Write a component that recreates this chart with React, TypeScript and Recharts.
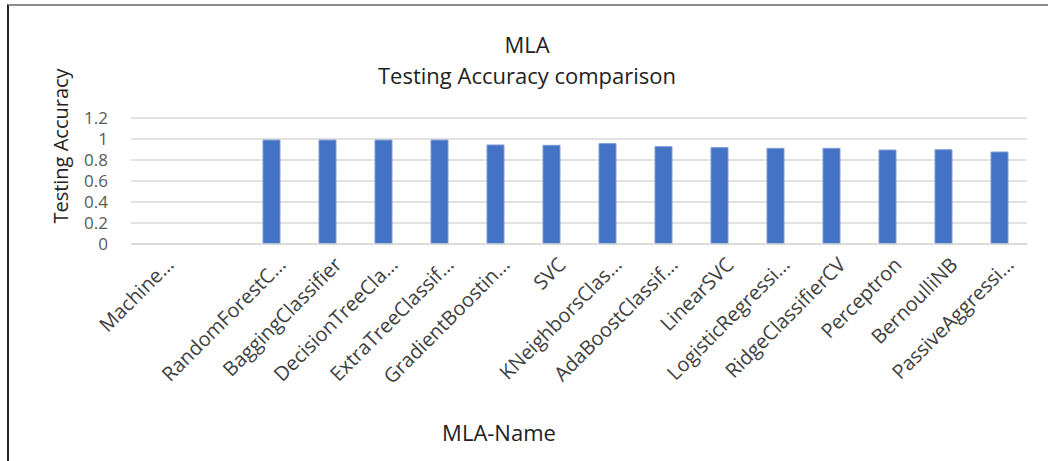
import React from 'react';
import { BarChart, Bar, XAxis, YAxis, CartesianGrid } from 'recharts';

const categories = [
  'Machine…', '', 'RandomForestC…', 'BaggingClassifier', 'DecisionTreeCla…', 'ExtraTreeClassif…',
  'GradientBoostin…', 'SVC', 'KNeighborsClas…', 'AdaBoostClassif…', 'LinearSVC',
  'LogisticRegressi…', 'RidgeClassifierCV', 'Perceptron', 'BernoulliNB', 'PassiveAggressi…',
];
const accuracy = [
  null, null, 0.99, 0.99, 0.99, 0.99,
  0.943, 0.94, 0.956, 0.927, 0.918,
  0.911, 0.911, 0.895, 0.898, 0.876,
];
const yTicks = [0, 0.2, 0.4, 0.6, 0.8, 1, 1.2];

const data = categories.map((name, i) => ({ name, accuracy: accuracy[i] }));

const FONT = '"Open Sans", sans-serif';

// tick y already sits 8px under the axis (tickSize + tickMargin)
function AngledTick(props: any) {
  const { x, y, payload } = props;
  const ax = x + 16;
  const ay = y + 14;
  return (
    <text
      x={ax}
      y={ay}
      transform={`rotate(-45, ${ax}, ${ay})`}
      textAnchor="end"
      fill="#404040"
      fontSize={20}
      fontFamily={FONT}
    >
      {payload.value}
    </text>
  );
}

export default function App() {
  return (
    <div style={{ position: 'absolute', left: 0, top: 0, width: 1048, height: 461, background: '#fff', fontFamily: FONT }}>
      <div style={{ position: 'absolute', left: 7, top: 4, right: 0, bottom: 0, borderTop: '2px solid #8a8a8a', borderLeft: '2px solid #222' }} />
      <div style={{ position: 'absolute', left: 0, width: 1054, top: 29, textAlign: 'center', fontSize: 22, color: '#222', lineHeight: '31px' }}>
        MLA<br />Testing Accuracy comparison
      </div>
      <div style={{ position: 'absolute', left: 60, top: 146, transform: 'translate(-50%, -50%) rotate(-90deg)', fontSize: 20, color: '#222', whiteSpace: 'nowrap' }}>
        Testing Accuracy
      </div>
      <div style={{ position: 'absolute', left: 499, top: 432, transform: 'translate(-50%, -50%)', fontSize: 22, color: '#222', whiteSpace: 'nowrap' }}>
        MLA-Name
      </div>
      <BarChart
        width={1048}
        height={461}
        data={data}
        margin={{ top: 118, right: 21, left: 71, bottom: 0 }}
        barCategoryGap={0}
        style={{ position: 'absolute', left: 0, top: 0 }}
      >
        <CartesianGrid vertical={false} stroke="#d9d9d9" strokeWidth={1.5} />
        <XAxis
          dataKey="name"
          interval={0}
          axisLine={{ stroke: '#d9d9d9', strokeWidth: 1.5 }}
          tickLine={false}
          tick={<AngledTick />}
          height={217}
        />
        <YAxis
          domain={[0, 1.2]}
          ticks={yTicks}
          interval={0}
          axisLine={false}
          tickLine={false}
          width={60}
          tick={{ fontSize: 17, fill: '#595959', fontFamily: FONT }}
          tickMargin={17}
        />
        <Bar dataKey="accuracy" fill="#4472C4" stroke="#7d9bd6" strokeWidth={1} barSize={17} isAnimationActive={false} />
      </BarChart>
    </div>
  );
}
